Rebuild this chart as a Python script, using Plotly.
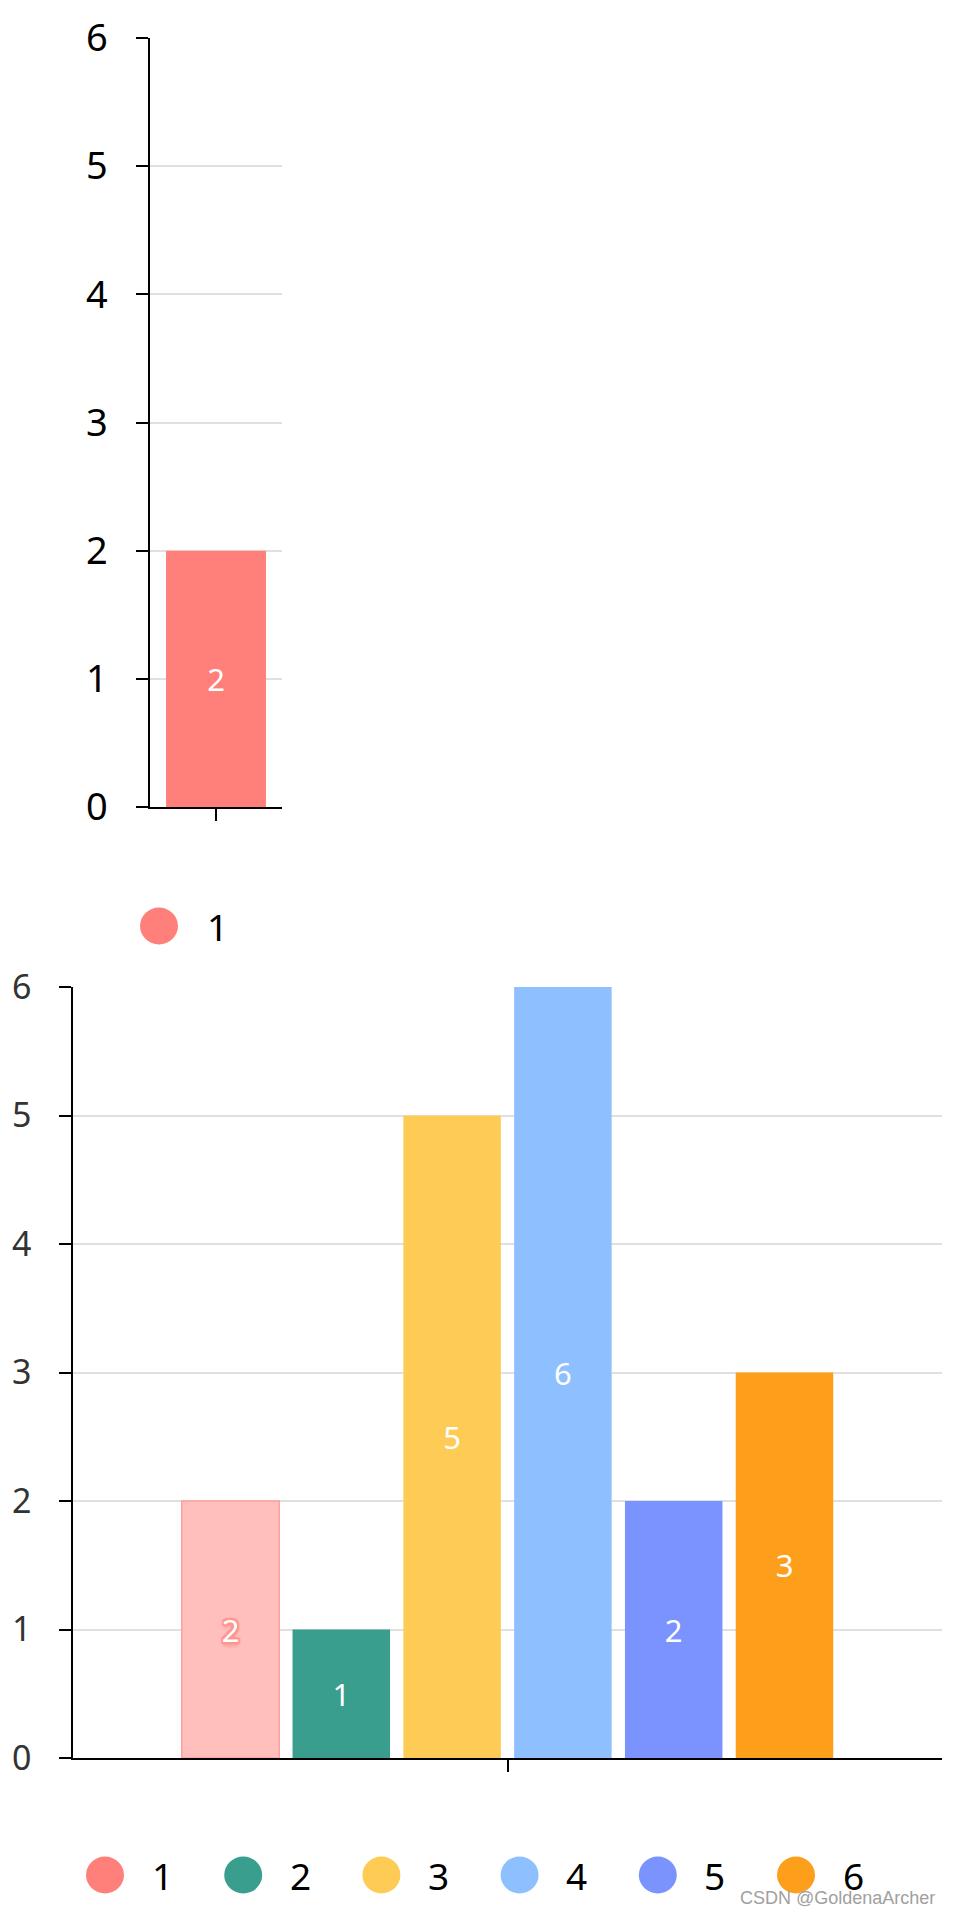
import plotly.graph_objects as go

# ---------------- data ----------------
top_categories = ["1"]
top_values = [2]

bottom_series = ["1", "2", "3", "4", "5", "6"]
bottom_values = [2, 1, 5, 6, 2, 3]
category = ["c"]

colors = ["#FF7F7B", "#3A9E8F", "#FECC55", "#8EBFFF", "#7B93FF", "#FD9F1B"]
y_ticks = [0, 1, 2, 3, 4, 5, 6]

W, H = 954, 1914
FONT = "Noto Sans"

fig = go.Figure()

# top chart
fig.add_trace(go.Bar(
    x=category, y=top_values, name=top_categories[0],
    width=0.757,
    marker=dict(color=colors[0], line=dict(width=0)),
    text=[str(v) for v in top_values], textposition="inside",
    insidetextanchor="middle", textangle=0, constraintext="none",
    textfont=dict(color="white", size=31, family=FONT),
    xaxis="x", yaxis="y", showlegend=False, hoverinfo="skip",
))

# bottom chart
P = "#FF9591"
SHADOW = ", ".join([
    f"2px 0px 1px {P}", f"-2px 0px 1px {P}", f"0px 2px 1px {P}",
    f"0px -2px 1px {P}", f"2px 2px 1px {P}", f"-2px 2px 1px {P}",
    f"2px -2px 1px {P}", f"-2px -2px 1px {P}", f"0px 4px 3px {P}",
])
for i, (name, val) in enumerate(zip(bottom_series, bottom_values)):
    faded = (i == 0)
    fig.add_trace(go.Bar(
        x=category, y=[val], name=name, offsetgroup=name,
        marker=dict(color="#FFBFBD" if faded else colors[i],
                    line=dict(width=1.5 if faded else 0,
                              color="#FFA09D")),
        text=[str(val)], textposition="inside", insidetextanchor="middle",
        textangle=0, constraintext="none",
        textfont=dict(color="white", size=31, family=FONT,
                      shadow=SHADOW if faded else "none"),
        xaxis="x2", yaxis="y2", showlegend=False, hoverinfo="skip",
    ))


def px_x(px):
    return px / W


def px_y(py):
    return 1 - py / H


yaxis_common = dict(
    range=[0, 6], tickvals=y_ticks, showline=True, linecolor="black",
    linewidth=1.5, ticks="outside", ticklen=12, tickwidth=1.5,
    tickcolor="black", showgrid=True, gridcolor="#E0E0E0", gridwidth=1.5,
    zeroline=False, ticklabelstandoff=21, fixedrange=True, automargin=False,
)
xaxis_common = dict(
    showline=True, linecolor="black", linewidth=1.5, ticks="outside",
    ticklen=12, tickwidth=1.5, tickcolor="black", showticklabels=False,
    showgrid=False, zeroline=False, fixedrange=True, automargin=False,
)

shapes = []
annotations = []

# top legend
shapes.append(dict(type="circle", xref="paper", yref="paper",
                   xsizemode="pixel", ysizemode="pixel",
                   xanchor=px_x(159), yanchor=px_y(926),
                   x0=-19, x1=19, y0=-18.5, y1=18.5,
                   fillcolor=colors[0], line=dict(width=0)))
annotations.append(dict(text=top_categories[0], xref="paper", yref="paper",
                        x=px_x(217), y=px_y(926), showarrow=False,
                        xanchor="center", yanchor="middle",
                        font=dict(size=37, color="black", family=FONT)))

# bottom legend
for i, name in enumerate(bottom_series):
    cx = 105 + 138.2 * i
    shapes.append(dict(type="circle", xref="paper", yref="paper",
                       xsizemode="pixel", ysizemode="pixel",
                       xanchor=px_x(cx), yanchor=px_y(1875),
                       x0=-19, x1=19, y0=-18.5, y1=18.5,
                       fillcolor=colors[i], line=dict(width=0)))
    annotations.append(dict(text=name, xref="paper", yref="paper",
                            x=px_x(cx + 57), y=px_y(1875), showarrow=False,
                            xanchor="center", yanchor="middle",
                            font=dict(size=37, color="black", family=FONT)))

# watermark
annotations.append(dict(text="CSDN @GoldenaArcher", xref="paper", yref="paper",
                        x=px_x(937), y=px_y(1898), showarrow=False,
                        xanchor="right", yanchor="middle",
                        font=dict(size=18, color="#A0A0A0",
                                  family="Liberation Sans")))

fig.update_layout(
    template="none",
    width=W, height=H,
    margin=dict(l=0, r=0, t=0, b=0, pad=0),
    paper_bgcolor="white", plot_bgcolor="white",
    barmode="group", bargap=0.235, bargroupgap=0.12,
    xaxis=dict(domain=[px_x(150), px_x(282)], anchor="y", **xaxis_common),
    yaxis=dict(domain=[px_y(807), px_y(38)], anchor="x",
               tickfont=dict(size=38, color="black", family=FONT),
               **yaxis_common),
    xaxis2=dict(domain=[px_x(73), px_x(942)], anchor="y2", **xaxis_common),
    yaxis2=dict(domain=[px_y(1758), px_y(987)], anchor="x2",
                tickfont=dict(size=34, color="#333333", family=FONT),
                **yaxis_common),
    shapes=shapes, annotations=annotations, showlegend=False,
)

fig.write_html("out.html")
